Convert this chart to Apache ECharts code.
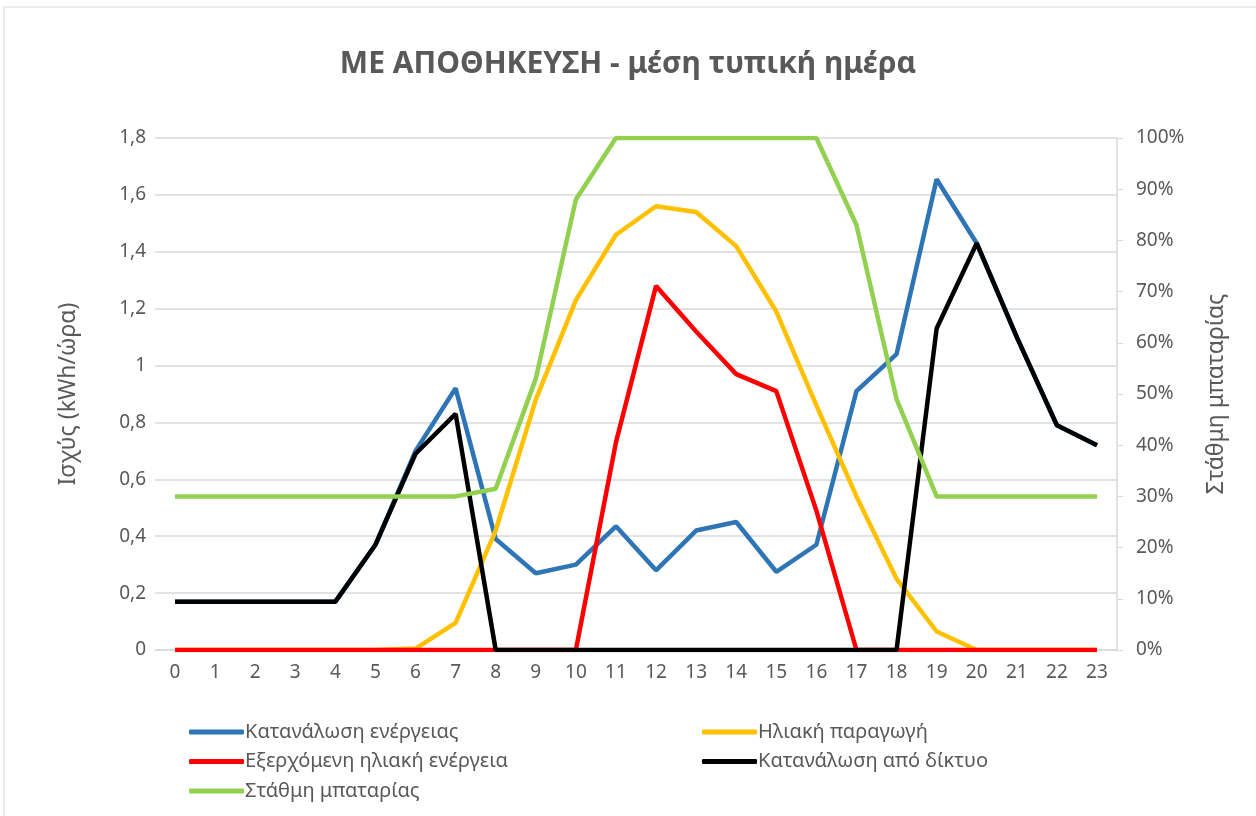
<!DOCTYPE html>
<html>
<head>
<meta charset="utf-8">
<script src="https://cdn.jsdelivr.net/npm/echarts@6/dist/echarts.min.js"></script>
<style>
  html, body { margin: 0; padding: 0; background: #fff; }
  #chart { width: 1256px; height: 816px; }
</style>
</head>
<body>
<div id="chart"></div>
<script>
// ώρες της ημέρας
const hours = ['0','1','2','3','4','5','6','7','8','9','10','11','12','13','14','15','16','17','18','19','20','21','22','23']

// kWh/ώρα
const consumption = [0.17,0.17,0.17,0.17,0.17,0.37,0.70,0.92,0.39,0.27,0.30,0.435,0.28,0.42,0.45,0.275,0.37,0.91,1.04,1.655,1.43,1.10,0.79,0.72]
const solar       = [0,0,0,0,0,0,0.005,0.095,0.42,0.88,1.23,1.46,1.56,1.54,1.42,1.19,0.86,0.54,0.25,0.065,0,0,0,0]
const exported    = [0,0,0,0,0,0,0,0,0,0,0,0.73,1.28,1.12,0.97,0.91,0.49,0,0,0,0,0,0,0]
const fromGrid    = [0.17,0.17,0.17,0.17,0.17,0.37,0.69,0.83,0,0,0,0,0,0,0,0,0,0,0,1.13,1.43,1.10,0.79,0.72]
// %
const battery     = [30,30,30,30,30,30,30,30,31.5,53,88,100,100,100,100,100,100,83,49,30,30,30,30,30]

const names = ['Κατανάλωση ενέργειας', 'Ηλιακή παραγωγή', 'Εξερχόμενη ηλιακή ενέργεια', 'Κατανάλωση από δίκτυο', 'Στάθμη μπαταρίας']

const font = 'Noto Sans'
const grey = '#595959'

const chart = echarts.init(document.getElementById('chart'))

const line = (name, data, color, yIdx) => ({
  name: name,
  type: 'line',
  data: data,
  yAxisIndex: yIdx || 0,
  showSymbol: false,
  symbol: 'none',
  lineStyle: { color: color, width: 4.5 },
  itemStyle: { color: color }
})

const comma = v => String(Math.round(v * 10) / 10).replace('.', ',')

const legendBase = {
  orient: 'vertical',
  top: 717,
  itemGap: 9.5,
  itemWidth: 55,
  itemHeight: 5,
  icon: 'roundRect',
  textStyle: { fontFamily: font, fontSize: 20, color: grey, padding: [0, 0, 0, -4] }
}

chart.setOption({
  animation: false,
  textStyle: { fontFamily: font },
  graphic: [{
    type: 'rect',
    shape: { x: 4, y: 7, width: 1260, height: 820 },
    style: { fill: 'none', stroke: '#d9d9d9', lineWidth: 1 }
  }],
  title: {
    text: 'ΜΕ ΑΠΟΘΗΚΕΥΣΗ - μέση τυπική ημέρα',
    left: 'center',
    top: 44,
    textStyle: { fontFamily: font, fontSize: 30, fontWeight: 'bold', color: grey }
  },
  legend: [
    Object.assign({ data: [names[0], names[2], names[4]], left: 184 }, legendBase),
    Object.assign({ data: [names[1], names[3]], left: 697 }, legendBase)
  ],
  grid: { left: 155, right: 139, top: 138, bottom: 166 },
  xAxis: {
    type: 'category',
    data: hours,
    boundaryGap: true,
    axisLine: { lineStyle: { color: '#d9d9d9', width: 1.5 } },
    axisTick: { show: false },
    axisLabel: { color: grey, fontSize: 19, margin: 13 }
  },
  yAxis: [{
    type: 'value',
    min: 0,
    max: 1.8,
    interval: 0.2,
    name: 'Ισχύς (kWh/ώρα)',
    nameLocation: 'middle',
    nameGap: 75,
    nameTextStyle: { color: grey, fontSize: 23 },
    axisLine: { show: false },
    axisTick: { show: false },
    axisLabel: { color: grey, fontSize: 19, margin: 9, formatter: comma },
    splitLine: { lineStyle: { color: '#d9d9d9', width: 1.5 } }
  }, {
    type: 'value',
    min: 0,
    max: 100,
    interval: 10,
    position: 'right',
    name: 'Στάθμη μπαταρίας',
    nameLocation: 'middle',
    nameRotate: 90,
    nameGap: 88,
    nameTextStyle: { color: grey, fontSize: 23 },
    axisLine: { show: true, lineStyle: { color: '#d9d9d9', width: 1.5 } },
    axisTick: { show: true, length: 6, lineStyle: { color: '#d9d9d9' } },
    axisLabel: { color: grey, fontSize: 19, margin: 19, formatter: '{value}%' },
    splitLine: { show: false }
  }],
  series: [
    line(names[0], consumption, '#2E75B6'),
    line(names[1], solar, '#FFC000'),
    line(names[2], exported, '#FF0000'),
    line(names[3], fromGrid, '#000000'),
    line(names[4], battery, '#92D050', 1)
  ]
})

window.addEventListener('resize', () => chart.resize())
</script>
</body>
</html>
